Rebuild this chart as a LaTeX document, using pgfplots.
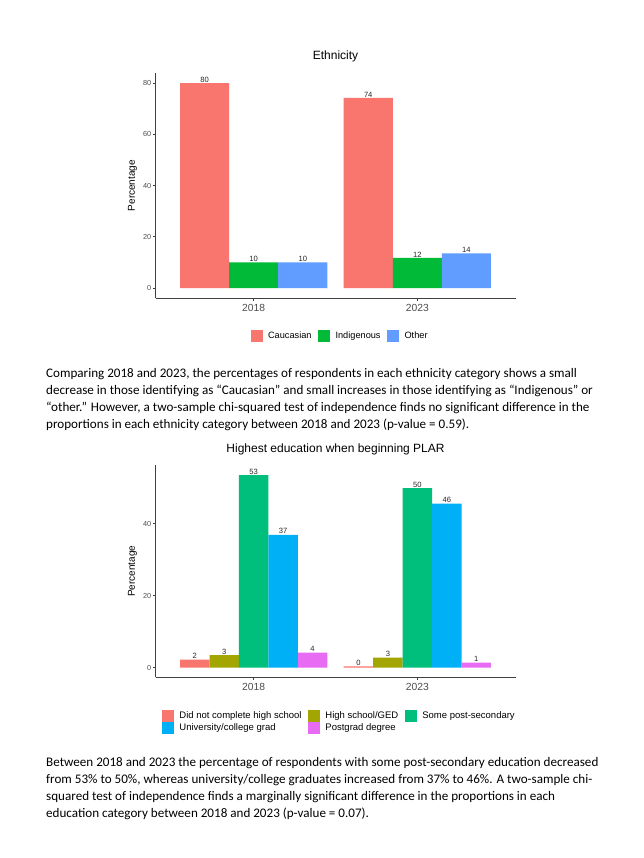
\documentclass[border=0pt]{standalone}
\usepackage{pgfplots}
\pgfplotsset{compat=1.18}
\usepackage{fontspec}
\setmainfont{Carlito}
\newfontfamily\arial{Liberation Sans}
\definecolor{c1}{HTML}{F8766D}
\definecolor{c2}{HTML}{00BA38}
\definecolor{c3}{HTML}{619CFF}
\definecolor{e1}{HTML}{F8766D}
\definecolor{e2}{HTML}{A3A500}
\definecolor{e3}{HTML}{00BF7D}
\definecolor{e4}{HTML}{00B0F6}
\definecolor{e5}{HTML}{E76BF3}
\definecolor{tk}{HTML}{4D4D4D}
\pgfplotsset{
  gg/.style={
    anchor=south west, scale only axis,
    xmin=0.4, xmax=2.6,
    axis x line*=bottom, axis y line*=left,
    axis line style={-, black!75, line width=0.9pt},
    xtick={1,2}, xticklabels={2018,2023},
    tick align=outside, major tick length=2.5pt,
    tick style={black!75, line width=0.8pt},
    /pgf/number format/assume math mode=true,
    x tick label style={font=\arial\fontsize{10.3}{12}\selectfont, text=tk},
    y tick label style={font=\arial\fontsize{7.3}{8}\selectfont, text=tk, inner sep=1.5pt},
    ylabel={Percentage},
    ylabel style={font=\arial\fontsize{10}{12}\selectfont, at={(axis description cs:-0.064,0.5)}, anchor=center},
    title style={font=\arial\fontsize{12}{14}\selectfont, at={(axis description cs:0.5,1)}, anchor=base},
    nodes near coords, point meta=explicit symbolic,
    nodes near coords style={font=\arial\fontsize{7.6}{8}\selectfont, anchor=south, inner sep=0.6pt, text=black!85},
    legend cell align=left,
    legend image code/.code={\fill[##1] (0pt,-6pt) rectangle (12pt,6pt);},
    legend style={draw=none, fill=none, inner sep=0pt,
      nodes={inner sep=0pt},
      /tikz/every odd column/.append style={column sep=5.5pt},
      /tikz/every even column/.append style={column sep=6.5pt}},
    clip=false,
  }
}
\begin{document}
\begin{tikzpicture}[x=1pt,y=1pt]
\fill[white] (0,0) rectangle (644,858);
\path[use as bounding box] (0,0) rectangle (644,858);

% ---------- Chart 1: Ethnicity ----------
\begin{axis}[gg,
  at={(155.5pt,559.7pt)}, width=360pt, height=225.3pt,
  ymin=-4, ymax=84, ytick={0,20,40,60,80},
  title={Ethnicity}, title style={yshift=7pt},
  legend columns=3,
  legend style={at={(0.510,-0.167)}, anchor=center, font=\arial\fontsize{9.2}{10}\selectfont},
]
\addplot[ybar, bar width=0.3, bar shift=0, draw=none, fill=c1] coordinates {(0.7,80) [80] (1.7,74.3) [74]};
\addlegendentry{Caucasian}
\addplot[ybar, bar width=0.3, bar shift=0, draw=none, fill=c2] coordinates {(1,10) [10] (2,11.8) [12]};
\addlegendentry{Indigenous}
\addplot[ybar, bar width=0.3, bar shift=0, draw=none, fill=c3] coordinates {(1.3,10) [10] (2.3,13.5) [14]};
\addlegendentry{Other}
\end{axis}

% ---------- Chart 2: Education ----------
\begin{axis}[gg,
  at={(155.5pt,180.7pt)}, width=360pt, height=212.3pt,
  ymin=-2.68, ymax=56.3, ytick={0,20,40},
  title={Highest education when beginning PLAR}, title style={yshift=6.7pt},
  legend columns=3,
  legend style={at={(0.508,-0.2105)}, anchor=center, font=\arial\fontsize{9.5}{10}\selectfont,
    /tikz/every row/.append style={row sep=0.8pt}},
]
\addplot[ybar, bar width=0.18, bar shift=0, draw=none, fill=e1] coordinates {(0.64,2.2) [2] (1.64,0.35) [0]};
\addlegendentry{Did not complete high school}
\addplot[ybar, bar width=0.18, bar shift=0, draw=none, fill=e2] coordinates {(0.82,3.5) [3] (1.82,2.8) [3]};
\addlegendentry{High school/GED}
\addplot[ybar, bar width=0.18, bar shift=0, draw=none, fill=e3] coordinates {(1,53.5) [53] (2,49.9) [50]};
\addlegendentry{Some post-secondary}
\addplot[ybar, bar width=0.18, bar shift=0, draw=none, fill=e4] coordinates {(1.18,36.9) [37] (2.18,45.6) [46]};
\addlegendentry{University/college grad}
\addplot[ybar, bar width=0.18, bar shift=0, draw=none, fill=e5] coordinates {(1.36,4.15) [4] (2.36,1.4) [1]};
\addlegendentry{Postgrad degree}
\end{axis}

% ---------- Paragraphs ----------
\begin{scope}[every node/.style={anchor=base west, inner sep=0pt, font=\fontsize{13.1}{15}\selectfont}]
\node at (46,480) {Comparing 2018 and 2023, the percentages of respondents in each ethnicity category shows a small};
\node at (46,463) {decrease in those identifying as “Caucasian” and small increases in those identifying as “Indigenous” or};
\node at (46,446) {“other.” However, a two-sample chi-squared test of independence finds no significant difference in the};
\node at (46,429) {proportions in each ethnicity category between 2018 and 2023 (p-value = 0.59).};
\node at (46,91.5) {Between 2018 and 2023 the percentage of respondents with some post-secondary education decreased};
\node at (46,74.5) {from 53\% to 50\%, whereas university/college graduates increased from 37\% to 46\%. A two-sample chi-};
\node at (46,57.5) {squared test of independence finds a marginally significant difference in the proportions in each};
\node at (46,40.5) {education category between 2018 and 2023 (p-value = 0.07).};
\end{scope}
\end{tikzpicture}
\end{document}
